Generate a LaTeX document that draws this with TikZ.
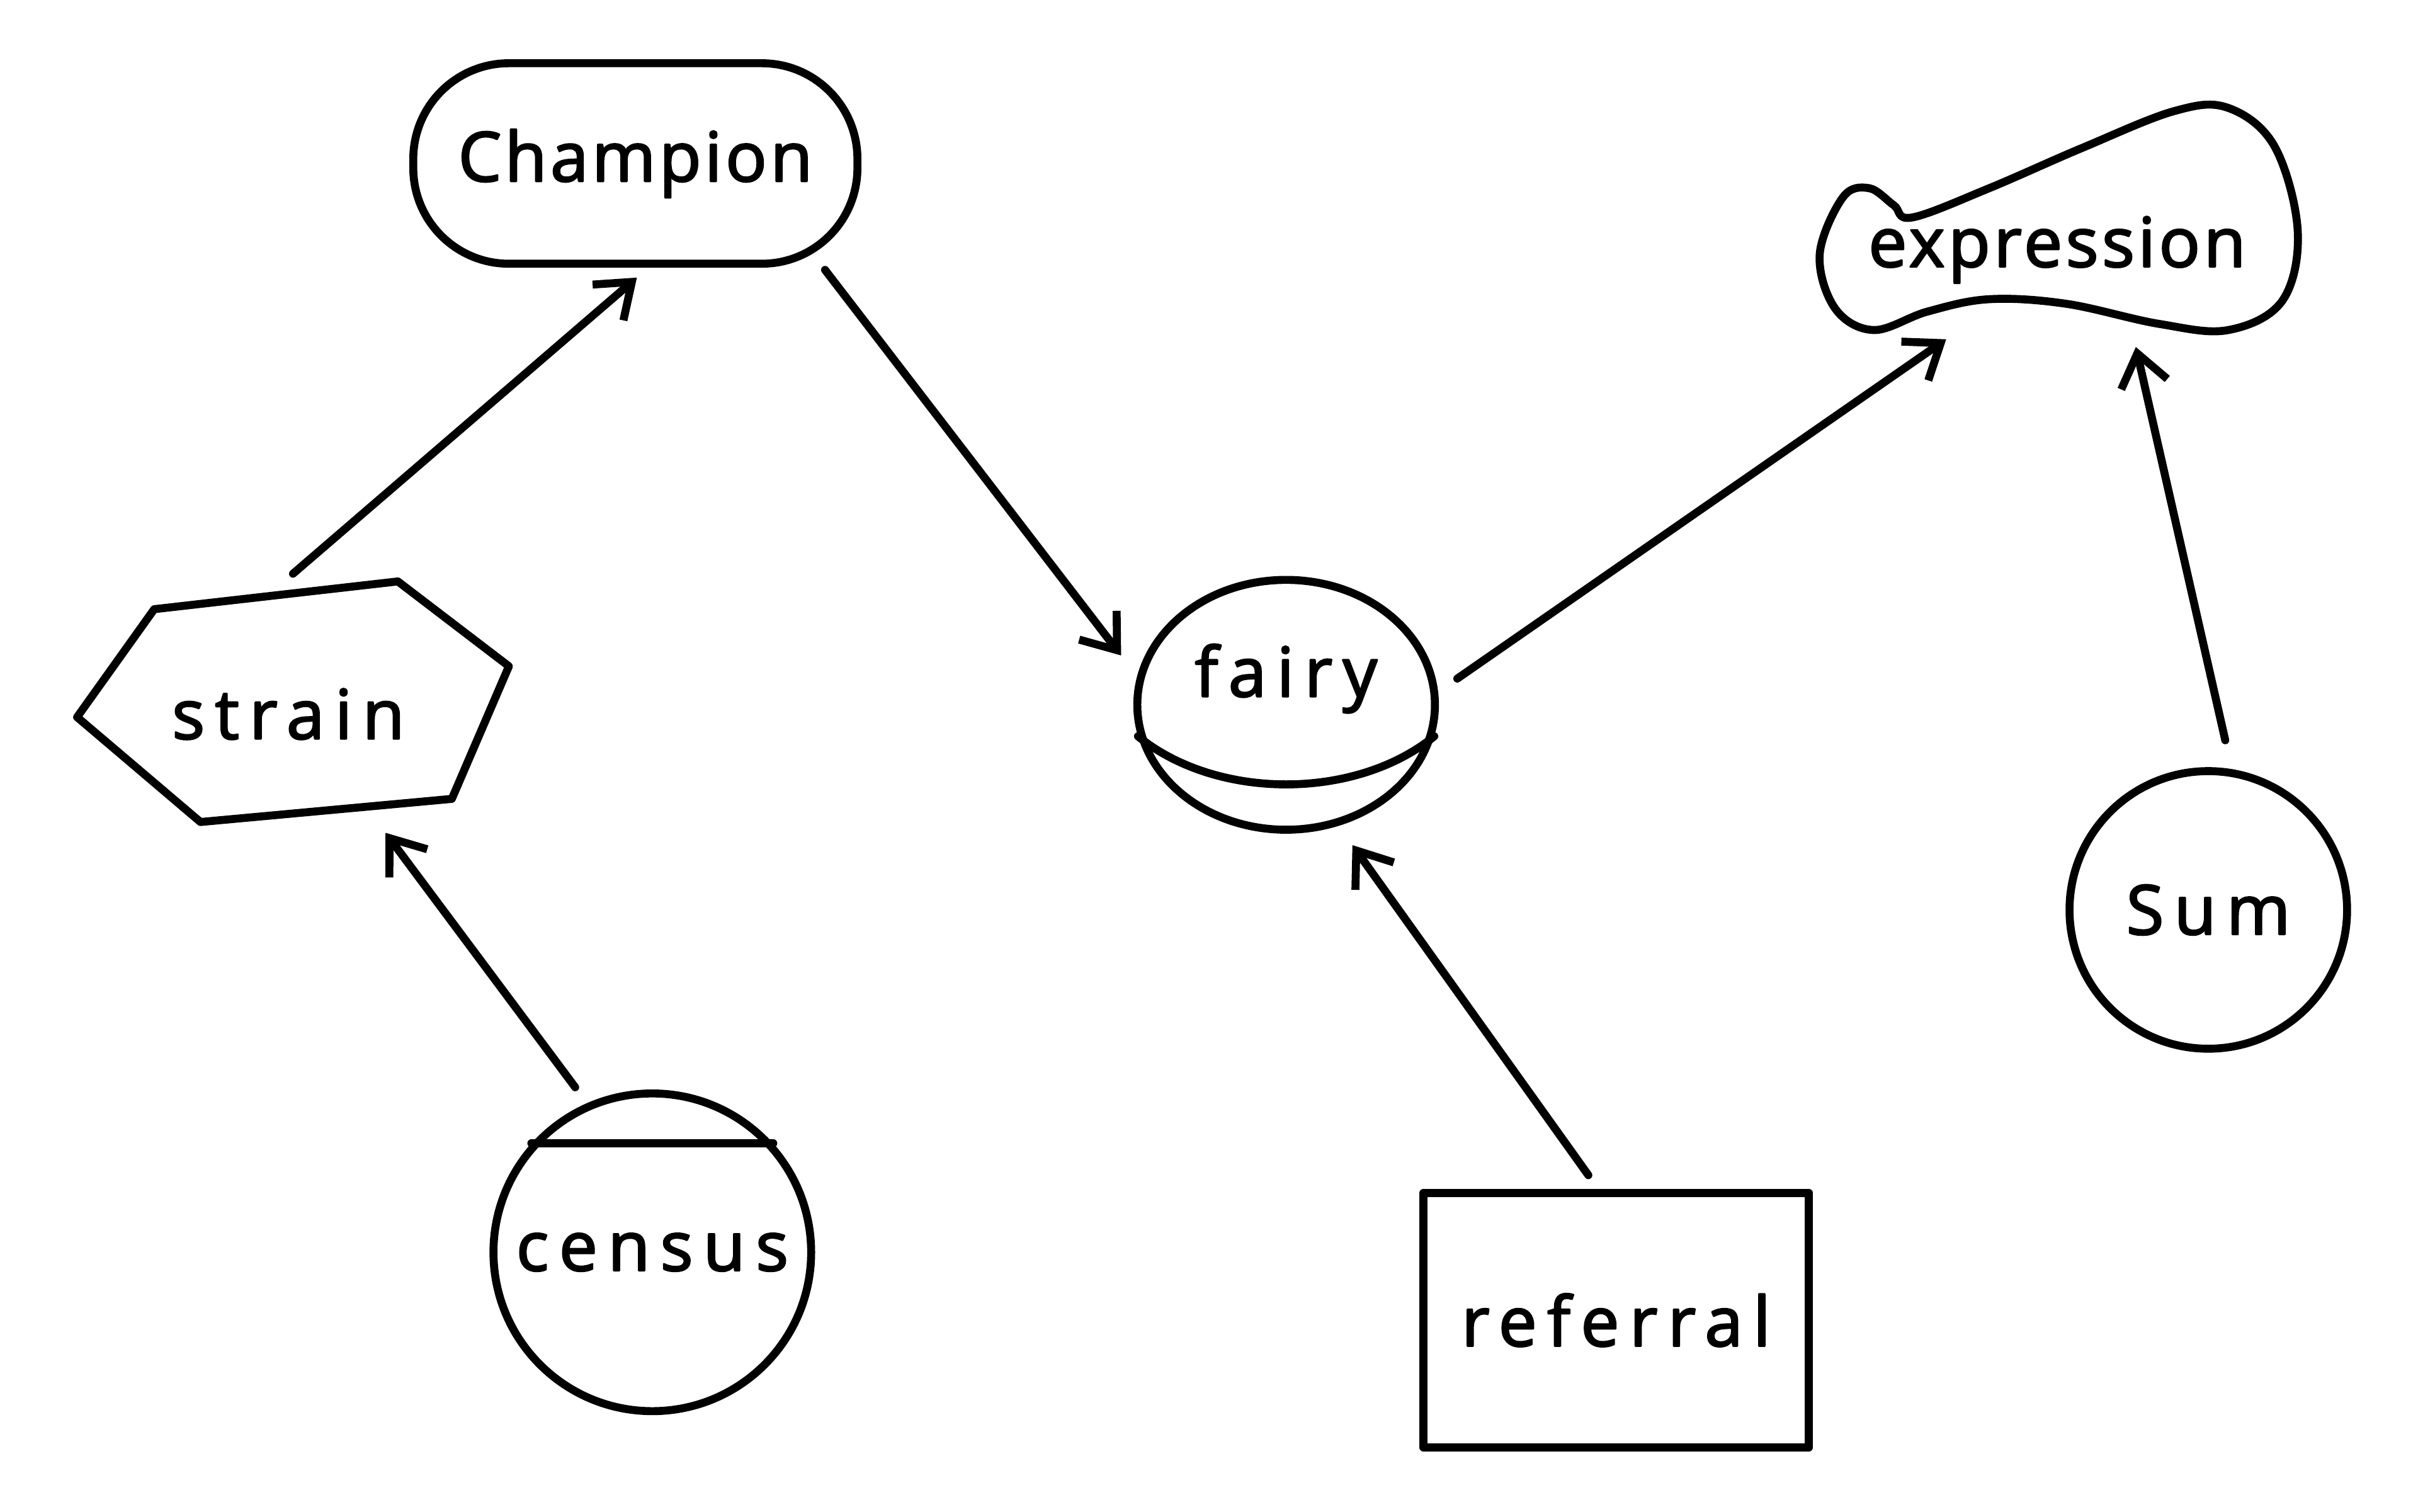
\documentclass[tikz,border=0pt]{standalone}
\usepackage{fontspec}
\setmainfont{Open Sans}[LetterSpace=15,FakeBold=2.5]
\usetikzlibrary{arrows.meta,calc,shapes.geometric}
\newdimen\spx \spx=0.02449cm
\begin{document}
\begin{tikzpicture}[x=0.02449cm,y=-0.02449cm,
  line width=3.6pt, line join=round, line cap=round,
  every node/.style={font=\fontsize{31}{36}\selectfont},
  tight/.style={font=\fontsize{31}{36}\selectfont\addfontfeature{LetterSpace=5}},
  arr/.style={-{Straight Barb[length=0.5cm,width=0.75cm,line width=3.6pt]}},
  ring/.style={draw,circle,inner sep=0pt}]
\useasboundingbox (0,0) rectangle (1568,980);
\fill[white] (0,0) rectangle (1568,980);

% nodes
\node[draw, tight, rounded corners=62\spx, minimum width=288\spx, minimum height=130\spx] (champion) at (412,106) {Champion};
\node (strain) at (187,463) {strain};
\draw ($(strain)+(-137,2)$) -- ($(strain)+(-87,-68)$) -- ($(strain)+(71,-86)$) -- ($(strain)+(143,-31)$) -- ($(strain)+(106,55)$) -- ($(strain)+(-57,70)$) -- cycle;

\node[draw, ellipse, inner sep=0pt, minimum width=193\spx, minimum height=162\spx, label={[yshift=17\spx]center:fairy}] (fairy) at (834,457) {};
\draw (fairy.192) .. controls ($(fairy)+(-45,62)$) and ($(fairy)+(45,62)$) .. (fairy.348);

\node[ring, minimum size=206\spx] (census) at (423,812) {census};
\draw (census.138) -- (census.42);

\node[draw, minimum width=250\spx, minimum height=165\spx] (referral) at (1048,856) {referral};

\node[ring, minimum size=180\spx] (sum) at (1432,590) {Sum};

\node[tight] (expression) at (1334,162) {expression};
\draw plot[smooth cycle, tension=0.6] coordinates {(1180,165) (1195,128) (1212,122) (1228,133) (1240,141) (1290,122) (1350,96) (1410,72) (1445,70) (1475,95) (1490,150) (1480,195) (1445,214) (1400,210) (1340,197) (1290,194) (1250,202) (1215,214) (1190,200)};

% edges
\draw[arr] ($(strain)+(3,-91)$) -- ($(champion)+(1,74)$);
\draw[arr] ($(champion)+(123,69)$) -- ($(fairy)+(-107,-32)$);
\draw[arr] ($(census)+(-50,-107)$) -- ($(strain)+(63,77)$);
\draw[arr] ($(referral)+(-18,-94)$) -- ($(fairy)+(43,91)$);
\draw[arr] ($(fairy)+(111,-17)$) -- ($(expression)+(-72,58)$);
\draw[arr] ($(sum)+(11,-110)$) -- ($(expression)+(51,63)$);
\end{tikzpicture}
\end{document}
